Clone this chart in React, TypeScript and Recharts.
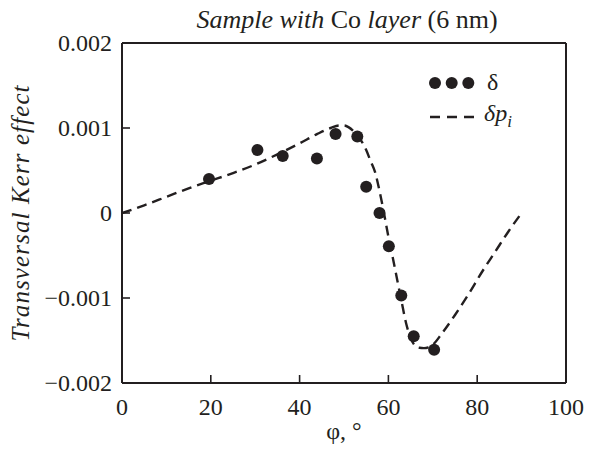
import React from 'react';
import { ComposedChart, Line, Scatter, XAxis, YAxis } from 'recharts';

const measuredPhi = [19.6, 30.5, 36.2, 43.9, 48.1, 53.0, 55.0, 58.0, 60.1, 62.9, 65.7, 70.3];
const measuredDelta = [0.0004, 0.00074, 0.00067, 0.00064, 0.00093, 0.0009, 0.00031, 0.0, -0.00039, -0.00097, -0.00145, -0.00161];

const curvePhi = [0, 5, 10, 15, 20, 25, 30, 35, 40, 44, 47, 49, 50, 51, 52, 53, 54, 55, 56, 57, 58, 59, 60, 61, 62, 63, 64, 65, 66, 67, 68, 69, 70, 72, 75, 78, 81, 84, 87, 90];
const curveDeltaP = [0, 0.09, 0.19, 0.29, 0.38, 0.47, 0.57, 0.69, 0.82, 0.93, 1.0, 1.03, 1.03, 1.01, 0.97, 0.91, 0.84, 0.74, 0.61, 0.48, 0.26, 0.0, -0.28, -0.53, -0.79, -1.05, -1.3, -1.47, -1.56, -1.585, -1.59, -1.58, -1.55, -1.42, -1.2, -0.96, -0.7, -0.46, -0.22, 0].map((v) => v / 1000);

const xTicks = [0, 20, 40, 60, 80, 100];
const yTicks = [-0.002, -0.001, 0, 0.001, 0.002];

const measured = measuredPhi.map((x, i) => ({ x, y: measuredDelta[i] }));
const curve = curvePhi.map((x, i) => ({ x, y: curveDeltaP[i] }));

const INK = '#231f20';
const FONT = '"Liberation Serif", "DejaVu Serif", serif';
const TICK_FS = 24;
const TL = 8;
const BM = 15;
const LM = 10;

const fmtY = (v: number) => {
  if (Math.abs(v) < 1e-12) return '0';
  const s = Math.abs(v).toFixed(3);
  return (v < 0 ? '\u2212' : '') + s;
};

const BottomTick = (props: any) => {
  const { x, y, payload } = props;
  const axisY = y - BM;
  return (
    <g>
      <line x1={x} x2={x} y1={axisY} y2={axisY - TL} stroke={INK} strokeWidth={1.6} />
      <text x={x} y={y} dy={17} textAnchor="middle" fontFamily={FONT} fontSize={TICK_FS} fill={INK}>
        {payload.value}
      </text>
    </g>
  );
};

const TopTick = (props: any) => {
  const { x, y } = props;
  const axisY = y + BM;
  return <line x1={x} x2={x} y1={axisY} y2={axisY + TL} stroke={INK} strokeWidth={1.6} />;
};

const LeftTick = (props: any) => {
  const { x, y, payload } = props;
  const axisX = x + LM;
  return (
    <g>
      <line x1={axisX} x2={axisX + TL} y1={y} y2={y} stroke={INK} strokeWidth={1.6} />
      <text x={x} y={y} dy={8} textAnchor="end" fontFamily={FONT} fontSize={TICK_FS} fill={INK}>
        {fmtY(payload.value)}
      </text>
    </g>
  );
};

const RightTick = (props: any) => {
  const { x, y } = props;
  const axisX = x - LM;
  return <line x1={axisX} x2={axisX - TL} y1={y} y2={y} stroke={INK} strokeWidth={1.6} />;
};

export default function App() {
  return (
    <div style={{ position: 'absolute', left: 0, top: 0, width: 589, height: 449, background: '#fff' }}>
      <div style={{ position: 'absolute', left: 0, top: 0 }}>
        <ComposedChart width={589} height={449} margin={{ top: 42, right: 22, bottom: 36, left: 0 }}>
          <XAxis
            xAxisId="b"
            dataKey="x"
            type="number"
            domain={[0, 100]}
            ticks={xTicks}
            interval={0}
            allowDataOverflow
            height={30}
            stroke={INK}
            strokeWidth={2}
            tickSize={0}
            tickLine={false}
            tickMargin={BM}
            tick={<BottomTick />}
            label={{ value: 'φ, °', position: 'bottom', offset: 9, fill: INK, fontFamily: FONT, fontSize: TICK_FS }}
          />
          <XAxis
            xAxisId="t"
            dataKey="x"
            type="number"
            orientation="top"
            domain={[0, 100]}
            ticks={xTicks}
            interval={0}
            height={1}
            stroke={INK}
            strokeWidth={2}
            tickSize={0}
            tickLine={false}
            tickMargin={BM}
            tick={<TopTick />}
          />
          <YAxis
            yAxisId="l"
            type="number"
            domain={[-0.002, 0.002]}
            ticks={yTicks}
            interval={0}
            width={122}
            stroke={INK}
            strokeWidth={2}
            tickSize={0}
            tickLine={false}
            tickMargin={LM}
            tick={<LeftTick />}
          />
          <YAxis
            yAxisId="r"
            type="number"
            orientation="right"
            domain={[-0.002, 0.002]}
            ticks={yTicks}
            interval={0}
            width={1}
            stroke={INK}
            strokeWidth={2}
            tickSize={0}
            tickLine={false}
            tickMargin={LM}
            tick={<RightTick />}
          />
          <Line
            xAxisId="b"
            yAxisId="l"
            data={curve}
            dataKey="y"
            type="monotone"
            stroke={INK}
            strokeWidth={2.4}
            strokeDasharray="10 6"
            dot={false}
            activeDot={false}
            isAnimationActive={false}
          />
          <Scatter
            xAxisId="b"
            yAxisId="l"
            data={measured}
            dataKey="y"
            fill={INK}
            shape={(p: any) => <circle cx={p.cx} cy={p.cy} r={6} fill={INK} />}
            isAnimationActive={false}
          />
        </ComposedChart>
      </div>
      <svg width={589} height={449} style={{ position: 'absolute', left: 0, top: 0, pointerEvents: 'none' }}>
        <text x={347} y={28} textAnchor="middle" fontFamily={FONT} fontSize={26} fill={INK}>
          <tspan fontStyle="italic">Sample with </tspan>
          <tspan>Co </tspan>
          <tspan fontStyle="italic">layer </tspan>
          <tspan>(6 nm)</tspan>
        </text>
        <text
          transform="translate(29 213) rotate(-90)"
          textAnchor="middle"
          fontFamily={FONT}
          fontSize={25}
          fontStyle="italic"
          letterSpacing={1.1}
          fill={INK}
        >
          Transversal Kerr effect
        </text>
        <g fill={INK}>
          <circle cx={435} cy={83} r={6} />
          <circle cx={451.7} cy={83} r={6} />
          <circle cx={468.3} cy={83} r={6} />
        </g>
        <text x={487} y={90} fontFamily={FONT} fontSize={24} fill={INK}>δ</text>
        <line x1={430} y1={117} x2={474} y2={117} stroke={INK} strokeWidth={2.4} strokeDasharray="10 7" />
        <text x={484} y={121} fontFamily={FONT} fontSize={24} fontStyle="italic" fill={INK}>
          δp<tspan fontSize={17} dy={6}>i</tspan>
        </text>
      </svg>
    </div>
  );
}
